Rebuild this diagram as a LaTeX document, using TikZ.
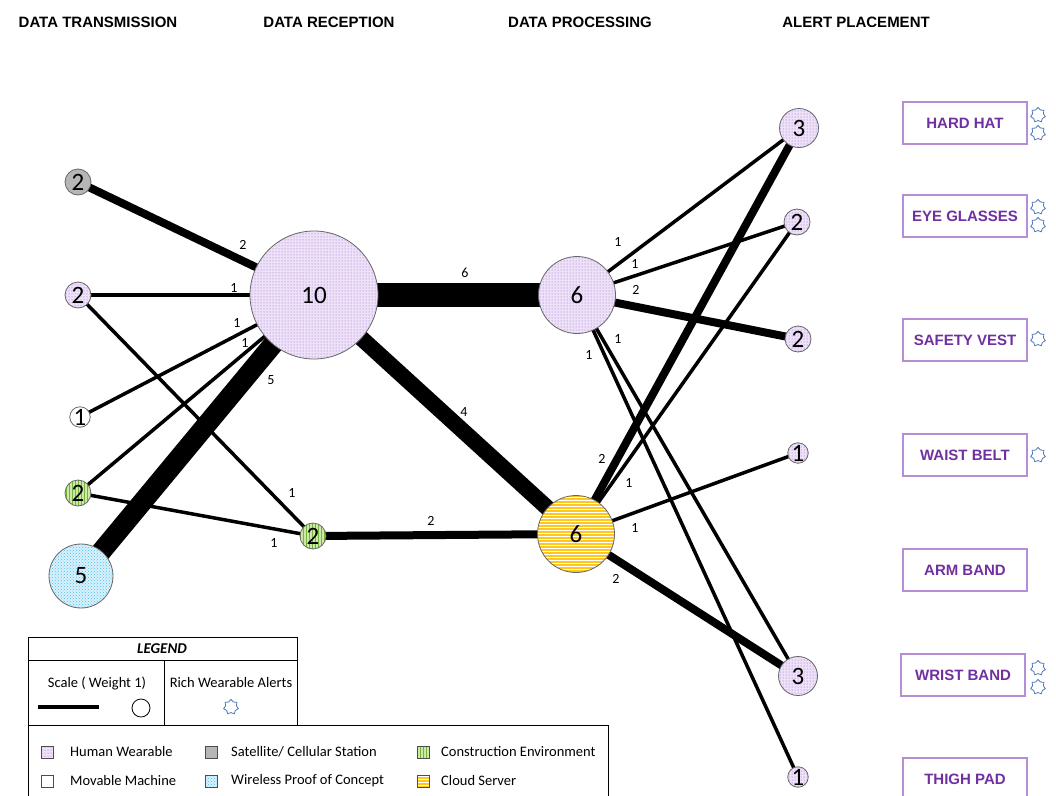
\documentclass[tikz,border=0pt]{standalone}
\usepackage{fontspec}
\setmainfont{Carlito}
\newfontfamily\arialfont{Liberation Sans}
\usepackage{tikz}
\usetikzlibrary{shapes.geometric,patterns,backgrounds}

\definecolor{lav}{RGB}{238,226,248}
\definecolor{lavdash}{RGB}{145,90,205}
\definecolor{satgray}{RGB}{182,182,182}
\definecolor{envgreen}{RGB}{205,232,170}
\definecolor{envline}{RGB}{115,180,55}
\definecolor{wifiblue}{RGB}{218,242,252}
\definecolor{wifiline}{RGB}{75,190,238}
\definecolor{cloudyel}{RGB}{255,198,30}
\definecolor{alertpurple}{RGB}{112,48,160}
\definecolor{boxpurple}{RGB}{182,142,216}
\definecolor{starblue}{RGB}{80,120,190}

\tikzset{
  wearfill/.style={preaction={fill=lav},pattern=dots,pattern color=lavdash},
  envfill/.style={preaction={fill=envgreen},pattern=vertical lines,pattern color=envline},
  wififill/.style={preaction={fill=wifiblue},pattern=crosshatch dots,pattern color=wifiline},
  cloudfill/.style={preaction={fill=cloudyel},pattern=horizontal lines,pattern color=white},
  vtx/.style={circle,draw=black!60,line width=0.8pt,font=\fontsize{25}{25}\selectfont},
  wear/.style={vtx,wearfill},
  sat/.style={vtx,fill=satgray},
  env/.style={vtx,envfill},
  mach/.style={vtx,fill=white},
  wifi/.style={vtx,wififill},
  cloud/.style={vtx,cloudfill},
  wt1/.style={line width=3.5pt},
  wt2/.style={line width=8pt},
  wt4/.style={line width=16pt},
  wt5/.style={line width=20pt},
  wt6/.style={line width=24pt},
  wlbl/.style={font=\fontsize{14}{14}\selectfont},
  hdr/.style={font=\arialfont\bfseries\fontsize{15}{15}\selectfont},
  abox/.style={draw=boxpurple,line width=1.2pt,minimum width=124pt,minimum height=42pt,
    text=alertpurple,font=\arialfont\bfseries\fontsize{15}{15}\selectfont},
  alrt/.style={star,star points=7,star point ratio=1.35,minimum size=15pt,draw=starblue,line width=0.8pt},
  lgtxt/.style={font=\fontsize{14.5}{14.5}\selectfont},
  swatch/.style={draw=black!70,line width=0.6pt,minimum size=12pt}
}

\begin{document}
\begin{tikzpicture}[x=1pt,y=-1pt,every node/.style={inner sep=0pt}]
\useasboundingbox (0,0) rectangle (1056,795);

\node[hdr] (h1) at (98,22) {DATA TRANSMISSION};
\node[hdr] (h2) at (329,22) {DATA RECEPTION};
\node[hdr] (h3) at (580,22) {DATA PROCESSING};
\node[hdr] (h4) at (856,22) {ALERT PLACEMENT};

\node[sat,minimum size=26] (t1) at (78,182) {2};
\node[wear,minimum size=26] (t2) at (78,295) {2};
\node[mach,minimum size=14] (t3) at (80,417) {1};
\node[env,minimum size=26] (t4) at (78,493) {2};
\node[wifi,minimum size=64] (t5) at (81,576) {5};
\node[wear,minimum size=128] (r1) at (314,295) {10};
\node[env,minimum size=26] (r2) at (313,536) {2};
\node[wear,minimum size=77] (p1) at (577,295) {6};
\node[cloud,minimum size=77] (p2) at (576,534) {6};
\node[wear,minimum size=39] (a1) at (799,128) {3};
\node[wear,minimum size=26] (a2) at (797,222) {2};
\node[wear,minimum size=26] (a3) at (798,339) {2};
\node[wear,minimum size=14] (a4) at (798,453) {1};
\node[wear,minimum size=39] (a5) at (798,676) {3};
\node[wear,minimum size=14] (a6) at (798,777) {1};

\begin{scope}[on background layer]
\draw[wt2] (t1.center) -- (r1.center);
\draw[wt1] (t2.center) -- (r1.center);
\draw[wt1] (t2.center) -- (r2.center);
\draw[wt1] (t3.center) -- (r1.center);
\draw[wt1] (t4.center) -- (r1.center);
\draw[wt1] (t4.center) -- (r2.center);
\draw[wt5] (t5.center) -- (r1.center);
\draw[wt6] (r1.center) -- (p1.center);
\draw[wt4] (r1.center) -- (p2.center);
\draw[wt2] (r2.center) -- (p2.center);
\draw[wt1] (p1.center) -- (a1.center);
\draw[wt1] (p1.center) -- (a2.center);
\draw[wt2] (p1.center) -- (a3.center);
\draw[wt1] (p1.center) -- (a5.center);
\draw[wt1] (p1.center) -- (a6.center);
\draw[wt2] (p2.center) -- (a1.center);
\draw[wt1] (p2.center) -- (a2.center);
\draw[wt1] (p2.center) -- (a4.center);
\draw[wt2] (p2.center) -- (a5.center);
\end{scope}

\node[wlbl] (l1) at (243,245) {2};
\node[wlbl] (l2) at (234,288) {1};
\node[wlbl] (l3) at (237,323) {1};
\node[wlbl] (l4) at (245,343) {1};
\node[wlbl] (l5) at (271,380) {5};
\node[wlbl] (l6) at (292,493) {1};
\node[wlbl] (l7) at (274,543) {1};
\node[wlbl] (l8) at (465,273) {6};
\node[wlbl] (l9) at (464,412) {4};
\node[wlbl] (l10) at (431,521) {2};
\node[wlbl] (l11) at (618,242) {1};
\node[wlbl] (l12) at (635,264) {1};
\node[wlbl] (l13) at (636,290) {2};
\node[wlbl] (l14) at (618,339) {1};
\node[wlbl] (l15) at (589,355) {1};
\node[wlbl] (l16) at (602,459) {2};
\node[wlbl] (l17) at (629,483) {1};
\node[wlbl] (l18) at (635,528) {1};
\node[wlbl] (l19) at (616,579) {2};

\node[abox] (b1) at (965,123) {HARD HAT};
\node[abox] (b2) at (965,216) {EYE GLASSES};
\node[abox] (b3) at (965,340) {SAFETY VEST};
\node[abox] (b4) at (965,455) {WAIST BELT};
\node[abox] (b5) at (965,570) {ARM BAND};
\node[abox] (b6) at (963,675) {WRIST BAND};
\node[abox] (b7) at (965,779) {THIGH PAD};

\node[alrt] (s1a) at (1038,115) {};
\node[alrt] (s1b) at (1038,133) {};
\node[alrt] (s2a) at (1038,207) {};
\node[alrt] (s2b) at (1038,225) {};
\node[alrt] (s3) at (1038,339) {};
\node[alrt] (s4) at (1038,455) {};
\node[alrt] (s6a) at (1038,668) {};
\node[alrt] (s6b) at (1038,687) {};

\draw[line width=0.8pt] (28,637) rectangle (297,725);
\draw[line width=0.8pt] (28,660) -- (297,660);
\draw[line width=0.8pt] (164,660) -- (164,725);
\draw[line width=0.8pt] (28,725) rectangle (608,805);
\node[font=\bfseries\itshape\fontsize{15}{15}\selectfont] (lgt) at (162,649) {LEGEND};
\node[lgtxt] (lgs) at (97,683) {Scale ( Weight 1)};
\node[lgtxt] (lgr) at (231,683) {Rich Wearable Alerts};
\coordinate (lgl1) at (38,707);
\coordinate (lgl2) at (99,707);
\draw[line width=4pt] (lgl1) -- (lgl2);
\node[circle,draw,line width=0.8pt,minimum size=18] (lgc) at (141,708) {};
\node[alrt] (lgst) at (231,707) {};

\node[swatch,wearfill] (sw1) at (47,752) {};
\node[swatch,fill=satgray] (sw2) at (211,752) {};
\node[swatch,envfill] (sw3) at (423,752) {};
\node[swatch,fill=white] (sw4) at (47,781) {};
\node[swatch,wififill] (sw5) at (211,781) {};
\node[swatch,cloudfill] (sw6) at (423,781) {};
\node[lgtxt,anchor=west] (lx1) at (70,752) {Human Wearable};
\node[lgtxt,anchor=west] (lx2) at (231,752) {Satellite/ Cellular Station};
\node[lgtxt,anchor=west] (lx3) at (441,752) {Construction Environment};
\node[lgtxt,anchor=west] (lx4) at (70,781) {Movable Machine};
\node[lgtxt,anchor=west] (lx5) at (231,781) {Wireless Proof of Concept};
\node[lgtxt,anchor=west] (lx6) at (441,781) {Cloud Server};
\end{tikzpicture}
\end{document}
